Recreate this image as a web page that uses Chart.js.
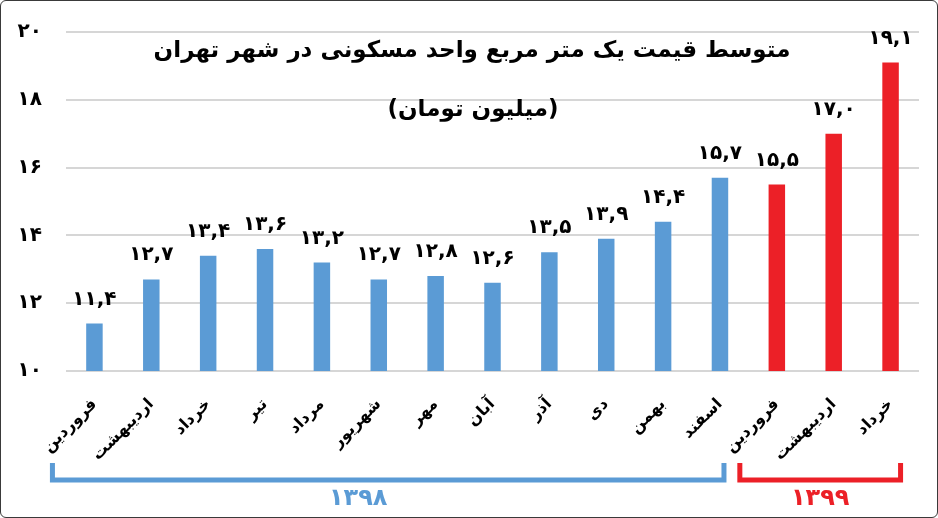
<!DOCTYPE html>
<html>
<head>
<meta charset="utf-8">
<script src="https://cdn.jsdelivr.net/npm/chart.js@4.4.1/dist/chart.umd.min.js"></script>
<style>
  body { margin: 0; background: #ffffff; }
  #frame {
    position: absolute; left: 0; top: 0;
    width: 936px; height: 516px;
    border: 1px solid #3a3a3a; border-radius: 6px;
    overflow: hidden;
  }
</style>
</head>
<body>
<div id="frame"><canvas id="priceChart" width="936" height="516"></canvas></div>
<script>
// داده ها
const months = ['فروردین', 'اردیبهشت', 'خرداد', 'تیر', 'مرداد', 'شهریور', 'مهر',
                'آبان', 'آذر', 'دی', 'بهمن', 'اسفند', 'فروردین', 'اردیبهشت', 'خرداد'];
const prices = [11.4, 12.7, 13.4, 13.6, 13.2, 12.7, 12.8, 12.6, 13.5, 13.9, 14.4, 15.7, 15.5, 17.0, 19.1];
const yearOfBar = [0, 0, 0, 0, 0, 0, 0, 0, 0, 0, 0, 0, 1, 1, 1];
const years = ['۱۳۹۸', '۱۳۹۹'];
const titleLines = ['متوسط قیمت یک متر مربع واحد مسکونی در شهر تهران', '(میلیون تومان)'];

const yearColors = ['#5b9bd5', '#ec2027'];
const fontFa = '"DejaVu Sans", sans-serif';

// تبدیل رقم ها به فارسی
function faDigits(str) {
    return String(str).replace(/[0-9]/g, d => '۰۱۲۳۴۵۶۷۸۹'[d]);
}

// عنوان و براکت سال ها
const overlayPlugin = {
    id: 'overlay',
    afterDatasetsDraw(chart) {
        const ctx = chart.ctx;
        const meta = chart.getDatasetMeta(0);

        // عدد بالای هر ستون
        ctx.save();
        ctx.fillStyle = '#000';
        ctx.font = 'bold 20px ' + fontFa;
        ctx.textAlign = 'center';
        ctx.textBaseline = 'alphabetic';
        meta.data.forEach((bar, i) => {
            ctx.fillText(faDigits(prices[i].toFixed(1)).replace('.', ','), bar.x, bar.y - 19);
        });
        ctx.restore();

        // عنوان
        ctx.save();
        ctx.direction = 'rtl';
        ctx.textAlign = 'center';
        ctx.textBaseline = 'middle';
        ctx.fillStyle = '#000';
        ctx.font = 'bold 23px ' + fontFa;
        ctx.fillText(titleLines[0], 471, 50);
        ctx.fillText(titleLines[1], 472, 109);
        ctx.restore();

        // براکت ها
        const x = chart.scales.x;
        const groups = [
            { from: 0, to: 11, left: -42, right: 4 },
            { from: 12, to: 14, left: -37, right: 10 }
        ];
        groups.forEach((g, k) => {
            const x1 = x.getPixelForValue(g.from) + g.left;
            const x2 = x.getPixelForValue(g.to) + g.right;
            ctx.save();
            ctx.strokeStyle = yearColors[k];
            ctx.lineWidth = 5;
            ctx.lineJoin = 'miter';
            ctx.beginPath();
            ctx.moveTo(x1, 462);
            ctx.lineTo(x1, 479);
            ctx.lineTo(x2, 479);
            ctx.lineTo(x2, 462);
            ctx.stroke();
            ctx.fillStyle = yearColors[k];
            ctx.font = 'bold 24px ' + fontFa;
            ctx.textAlign = 'center';
            ctx.textBaseline = 'middle';
            ctx.fillText(years[k], (x1 + x2) / 2 - (k === 0 ? 30 : 0), 498);
            ctx.restore();
        });
    }
};

const ctx = document.getElementById('priceChart').getContext('2d');
const chart = new Chart(ctx, {
    type: 'bar',
    data: {
        labels: months,
        datasets: [{
            data: prices,
            backgroundColor: yearOfBar.map(y => yearColors[y]),
            borderWidth: 0,
            barPercentage: 0.29,
            categoryPercentage: 1
        }]
    },
    options: {
        responsive: false,
        animation: false,
        layout: { padding: { top: 31, right: 18, left: 0, bottom: 0 } },
        plugins: {
            legend: { display: false },
            tooltip: { enabled: false }
        },
        scales: {
            x: {
                grid: { display: false, drawTicks: false },
                border: { display: false },
                ticks: {
                    minRotation: 45,
                    maxRotation: 45,
                    padding: 24,
                    color: '#000',
                    font: { family: fontFa, size: 16, weight: 'bold' }
                },
                afterFit(scale) { scale.height = 146; }
            },
            y: {
                min: 10,
                max: 20,
                grid: { color: '#d6d6d6', lineWidth: 2, drawTicks: false },
                border: { display: false },
                ticks: {
                    stepSize: 2,
                    padding: 24,
                    color: '#000',
                    font: { family: fontFa, size: 20, weight: 'bold' },
                    callback: v => faDigits(v)
                },
                afterFit(scale) {
                    scale.width = 65;
                    scale.paddingTop = 0;
                    scale.paddingBottom = 0;
                }
            }
        }
    },
    plugins: [overlayPlugin]
});
</script>
</body>
</html>
